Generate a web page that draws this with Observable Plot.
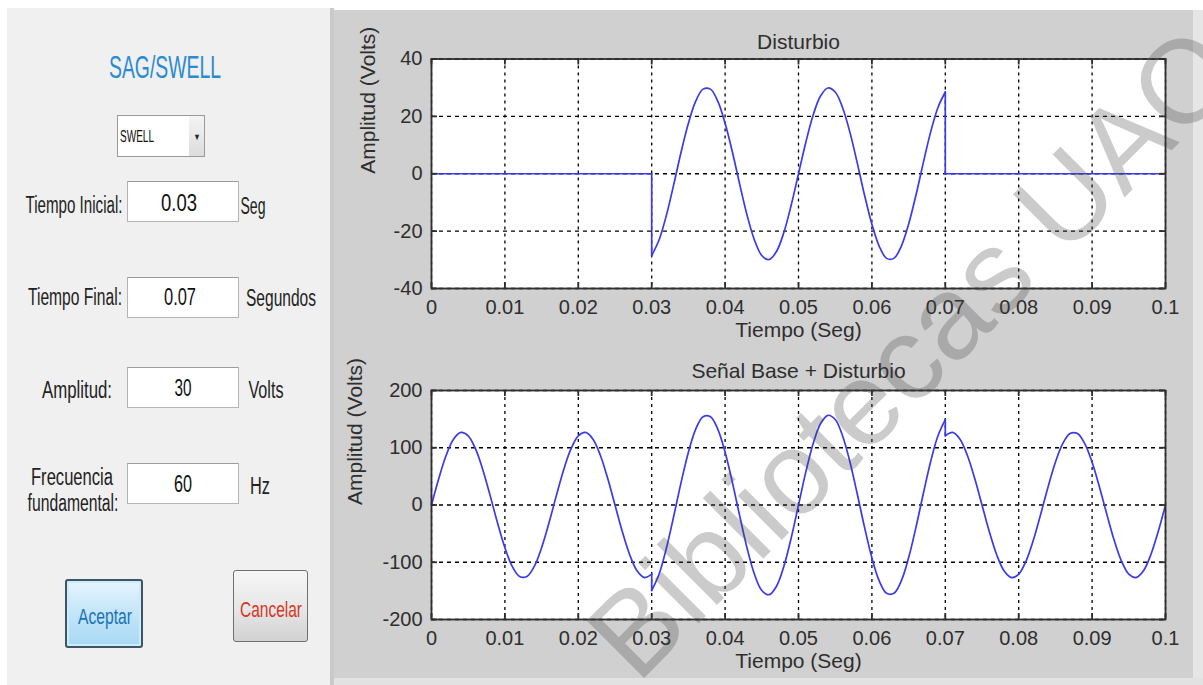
<!DOCTYPE html>
<html><head><meta charset="utf-8">
<script src="https://cdn.jsdelivr.net/npm/d3@7"></script>
<script src="https://cdn.jsdelivr.net/npm/@observablehq/plot@0.6"></script>
<style>
html,body{margin:0;padding:0;background:#fff;width:1203px;height:685px;overflow:hidden;}
#root{position:relative;width:1203px;height:685px;overflow:hidden;font-family:'Liberation Sans',Arial,sans-serif;}
.box{position:absolute;box-sizing:border-box;}
.plot{position:absolute;}
</style></head><body><div id="root"></div>
<script>
// ---------------- DATA ----------------
const xTicks = [0, 0.01, 0.02, 0.03, 0.04, 0.05, 0.06, 0.07, 0.08, 0.09, 0.1];
const xTickLabels = ["0", "0.01", "0.02", "0.03", "0.04", "0.05", "0.06", "0.07", "0.08", "0.09", "0.1"];
const yTicksDisturbio = [-40, -20, 0, 20, 40];
const yLabelsDisturbio = ["-40", "-20", "0", "20", "40"];
const yTicksSenal = [-200, -100, 0, 100, 200];
const yLabelsSenal = ["-200", "-100", "0", "100", "200"];
const titulos = ["Disturbio", "Señal Base + Disturbio"];
const etiquetaX = "Tiempo (Seg)";
const etiquetaY = "Amplitud (Volts)";

// time samples (s); 0.03 and 0.07 repeated where the waveform jumps
const tiempo = [
  0,0.001,0.002,0.003,0.004,0.005,0.006,0.007,0.008,0.009,
  0.010,0.011,0.012,0.013,0.014,0.015,0.016,0.017,0.018,0.019,
  0.020,0.021,0.022,0.023,0.024,0.025,0.026,0.027,0.028,0.029,
  0.030,0.030,0.031,0.032,0.033,0.034,0.035,0.036,0.037,0.038,0.039,
  0.040,0.041,0.042,0.043,0.044,0.045,0.046,0.047,0.048,0.049,
  0.050,0.051,0.052,0.053,0.054,0.055,0.056,0.057,0.058,0.059,
  0.060,0.061,0.062,0.063,0.064,0.065,0.066,0.067,0.068,0.069,
  0.070,0.070,0.071,0.072,0.073,0.074,0.075,0.076,0.077,0.078,0.079,
  0.080,0.081,0.082,0.083,0.084,0.085,0.086,0.087,0.088,0.089,
  0.090,0.091,0.092,0.093,0.094,0.095,0.096,0.097,0.098,0.099,0.100
];
// Disturbio (Volts)
const disturbio = [
  0,0,0,0,0,0,0,0,0,0,
  0,0,0,0,0,0,0,0,0,0,
  0,0,0,0,0,0,0,0,0,0,
  0,-28.5,-23.1,-14.5,-3.8,7.5,17.6,25.3,29.5,29.5,25.3,
  17.6,7.5,-3.8,-14.5,-23.1,-28.5,-29.9,-27.1,-20.5,-11.0,
  0,11.0,20.5,27.1,29.9,28.5,23.1,14.5,3.8,-7.5,
  -17.6,-25.3,-29.5,-29.5,-25.3,-17.6,-7.5,3.8,14.5,23.1,
  28.5,0,0,0,0,0,0,0,0,0,0,
  0,0,0,0,0,0,0,0,0,0,
  0,0,0,0,0,0,0,0,0,0,0
];
// Señal base + disturbio (Volts)
const senal = [
  0,46.7,86.9,114.9,126.7,120.8,97.9,61.2,15.9,-31.6,
  -74.6,-107.2,-124.8,-124.8,-107.2,-74.6,-31.6,15.9,61.2,97.9,
  120.8,126.7,114.9,86.9,46.7,0,-46.7,-86.9,-114.9,-126.7,
  -120.8,-149.3,-121.0,-75.6,-19.7,39.1,92.3,132.6,154.2,154.2,132.6,
  92.3,39.1,-19.7,-75.6,-121.0,-149.3,-156.7,-142.0,-107.5,-57.8,
  0,57.8,107.5,142.0,156.7,149.3,121.0,75.6,19.7,-39.1,
  -92.3,-132.6,-154.2,-154.2,-132.6,-92.3,-39.1,19.7,75.6,121.0,
  149.3,120.8,126.7,114.9,86.9,46.7,0,-46.7,-86.9,-114.9,-126.7,
  -120.8,-97.9,-61.2,-15.9,31.6,74.6,107.2,124.8,124.8,107.2,
  74.6,31.6,-15.9,-61.2,-97.9,-120.8,-126.7,-114.9,-86.9,-46.7,0
];

// GUI texts
const guiTitulo = "SAG/SWELL";
const guiTipo = "SWELL";
const guiCampos = ["Tiempo Inicial:", "Tiempo Final:", "Amplitud:", "Frecuencia", "fundamental:"];
const guiValores = ["0.03", "0.07", "30", "60"];
const guiUnidades = ["Seg", "Segundos", "Volts", "Hz"];
const guiBotones = ["Aceptar", "Cancelar"];
const marcaAgua = "Bibliotecas UAO";

// ---------------- LAYOUT ----------------
const root = document.getElementById("root");
function box(x, y, w, h, css) {
  const d = document.createElement("div");
  d.className = "box";
  d.style.cssText += `left:${x}px;top:${y}px;width:${w}px;height:${h}px;` + (css || "");
  root.appendChild(d);
  return d;
}
function txt(s, cx, cy, w, fs, color) {
  const el = document.createElement("div");
  el.textContent = s;
  el.style.cssText = `position:absolute;left:${cx}px;top:${cy}px;font:${fs}px 'Liberation Sans',Arial,sans-serif;color:${color};white-space:nowrap;line-height:1;`;
  root.appendChild(el);
  const mw = el.getBoundingClientRect().width;
  el.style.transform = `translate(-50%,-50%) scaleX(${(w / mw).toFixed(3)})`;
  return el;
}

// panels
box(7, 8, 323, 677, "background:#f0f0f0;");
box(330, 8, 4, 677, "background:#c9c9c9;");
box(334, 10, 859, 668, "background:#d0d0d0;");
box(1193, 10, 10, 675, "background:#e6e6e6;");
box(334, 678, 869, 7, "background:#e2e2e2;");

// GUI widgets
txt(guiTitulo, 164.5, 67, 112, 31, "#2a8bd2");
box(117, 115, 88, 42, "background:#fff;border:1px solid #9a9a9a;");
box(189, 116, 15, 40, "background:linear-gradient(#f4f4f4,#dcdcdc);");
txt("▼", 197, 137, 7, 9, "#222");
txt(guiTipo, 137, 137, 34, 16, "#111");

const inputs = [[181, 222], [277, 318], [367, 408], [463, 504]];
inputs.forEach(([y0, y1]) => box(127, y0, 112, y1 - y0, "background:#fff;border:1px solid #b4b4b4;border-top-color:#9c9c9c;"));

txt(guiCampos[0], 74, 205, 97, 23, "#222");
txt(guiCampos[1], 74.5, 297, 94, 23, "#222");
txt(guiCampos[2], 77, 390, 70, 23, "#222");
txt(guiCampos[3], 72, 477, 82, 23, "#222");
txt(guiCampos[4], 72.5, 503, 91, 23, "#222");

txt(guiValores[0], 179, 203, 36, 23, "#111");
txt(guiValores[1], 180, 297, 32, 23, "#111");
txt(guiValores[2], 183, 388, 17, 23, "#111");
txt(guiValores[3], 182.5, 484, 18, 23, "#111");

txt(guiUnidades[0], 252.5, 206, 25, 23, "#222");
txt(guiUnidades[1], 281, 298, 70, 23, "#222");
txt(guiUnidades[2], 265.5, 390, 35, 23, "#222");
txt(guiUnidades[3], 260, 486, 20, 23, "#222");

box(65, 579, 78, 69, "background:linear-gradient(#e6f5fd,#bfe4f8 55%,#a9d9f5);border:2px solid #3e5566;border-radius:3px;box-shadow:inset 0 0 0 2px #cdebfa;");
txt(guiBotones[0], 105, 617, 54, 22, "#1b72b6");
box(233, 570, 75, 72, "background:linear-gradient(#f6f6f6,#e8e8e8 50%,#d2d2d2);border:1px solid #707070;border-radius:3px;");
txt(guiBotones[1], 271, 610, 62, 22, "#d4361f");

// ---------------- CHARTS ----------------
const ink = "#2e2e2e";
// split the samples into runs; a repeated time value marks a vertical jump
function runs(values) {
  const rows = [];
  let seg = 0, start = 0;
  for (let i = 1; i <= tiempo.length; i++) {
    if (i === tiempo.length || tiempo[i] === tiempo[i - 1]) {
      for (let j = start; j < i; j++) rows.push({t: tiempo[j], v: values[j], seg});
      if (i < tiempo.length) {
        seg++;
        rows.push({t: tiempo[i - 1], v: values[i - 1], seg});
        rows.push({t: tiempo[i], v: values[i], seg});
        seg++;
        start = i;
      }
    }
  }
  return rows;
}
function chart({values, yDomain, yTicks, yLabels, title, top, height, mt, mb, yLabelDx, titleDy, xLabelDy}) {
  const W = 860, ml = 91, mr = 35;
  const fw = W - ml - mr, fh = height - mt - mb;
  const rows = runs(values);
  const svg = Plot.plot({
    width: W, height,
    marginLeft: ml, marginRight: mr, marginTop: mt, marginBottom: mb,
    style: {background: "transparent", fontFamily: "'Liberation Sans', Arial, sans-serif", fontSize: "20px", overflow: "visible"},
    x: {domain: [0, 0.1], label: null},
    y: {domain: yDomain, label: null},
    marks: [
      Plot.frame({fill: "white", stroke: null}),
      Plot.gridX(xTicks, {stroke: "#000", strokeOpacity: 1, strokeWidth: 1.3, strokeDasharray: "3,4"}),
      Plot.gridY(yTicks, {stroke: "#000", strokeOpacity: 1, strokeWidth: 1.3, strokeDasharray: "4,4"}),
      Plot.line(rows, {x: "t", y: "v", z: "seg", curve: "catmull-rom", stroke: "#3a3aec", strokeWidth: 1.7}),
      Plot.frame({stroke: ink, strokeWidth: 1.8}),
      Plot.ruleX(xTicks, {x: d => d, insetTop: fh - 6, stroke: ink, strokeWidth: 1.8}),
      Plot.ruleX(xTicks, {x: d => d, insetBottom: fh - 6, stroke: ink, strokeWidth: 1.8}),
      Plot.ruleY(yTicks, {y: d => d, insetRight: fw - 6, stroke: ink, strokeWidth: 1.8}),
      Plot.ruleY(yTicks, {y: d => d, insetLeft: fw - 6, stroke: ink, strokeWidth: 1.8}),
      Plot.axisX(xTicks, {anchor: "bottom", tickSize: 0, tickPadding: 11, fontSize: 20, color: ink, label: null,
        tickFormat: d => xTickLabels[xTicks.indexOf(d)]}),
      Plot.axisY(yTicks, {anchor: "left", tickSize: 0, tickPadding: 9, fontSize: 20, color: ink, label: null,
        tickFormat: d => yLabels[yTicks.indexOf(d)]}),
      Plot.text([title], {text: d => d, frameAnchor: "top", dy: titleDy, fontSize: 21, fill: ink}),
      Plot.text([etiquetaX], {text: d => d, frameAnchor: "bottom", dy: xLabelDy, fontSize: 21, fill: ink}),
      Plot.text([etiquetaY], {text: d => d, frameAnchor: "left", dx: yLabelDx, rotate: -90, fontSize: 21, fill: ink})
    ]
  });
  svg.classList.add("plot");
  svg.style.left = "340px";
  svg.style.top = top + "px";
  root.appendChild(svg);
}

chart({values: disturbio, yDomain: [-40, 40], yTicks: yTicksDisturbio, yLabels: yLabelsDisturbio,
  title: titulos[0], top: 0, height: 350, mt: 58.5, mb: 62, yLabelDx: -63, titleDy: -25, xLabelDy: 48});
chart({values: senal, yDomain: [-200, 200], yTicks: yTicksSenal, yLabels: yLabelsSenal,
  title: titulos[1], top: 340, height: 345, mt: 50, mb: 66, yLabelDx: -76, titleDy: -27, xLabelDy: 48});

// watermark
const wm = document.createElement("div");
wm.textContent = marcaAgua;
wm.style.cssText = "position:absolute;left:912px;top:352px;font:118px 'Liberation Sans',Arial,sans-serif;color:rgba(70,70,70,0.28);white-space:nowrap;line-height:1;pointer-events:none;transform:translate(-50%,-50%) rotate(-45deg);";
root.appendChild(wm);
</script>
</body></html>
